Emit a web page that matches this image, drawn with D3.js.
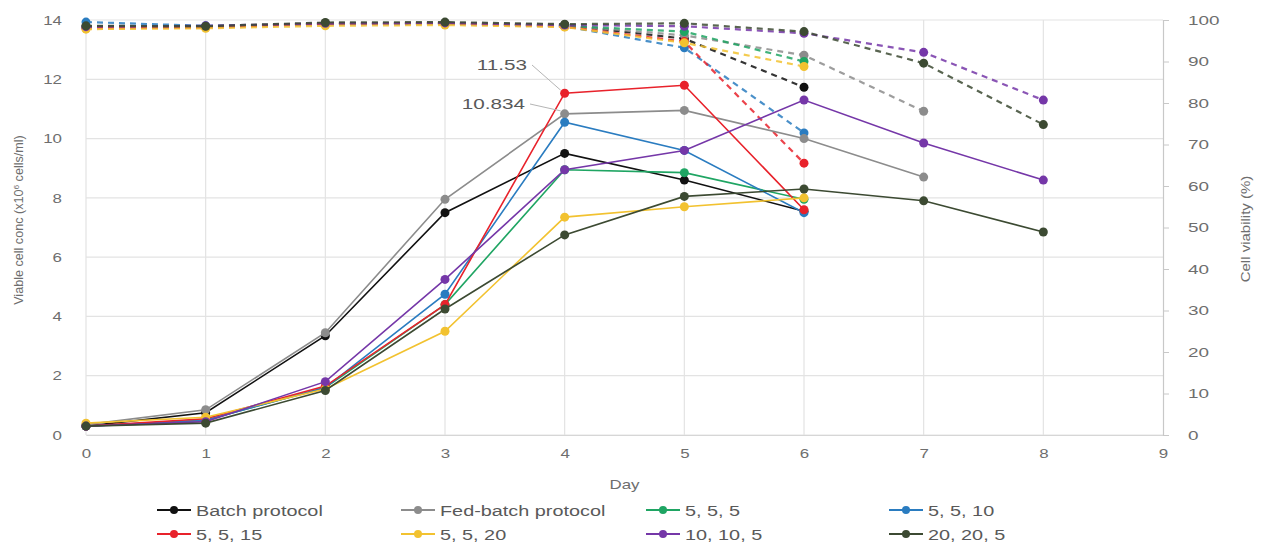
<!DOCTYPE html>
<html>
<head>
<meta charset="utf-8">
<script src="https://cdn.jsdelivr.net/npm/d3@7"></script>
<style>
  body { margin: 0; background: #fff; }
  svg { display: block; }
  text { font-family: "Liberation Sans", Arial, sans-serif; }
</style>
</head>
<body>
<svg id="chart" width="1265" height="544"></svg>
<script>
// Culture days and tick labels
const days = [0, 1, 2, 3, 4, 5, 6, 7, 8];
const xTicks = [0, 1, 2, 3, 4, 5, 6, 7, 8, 9];
const leftTicks = [0, 2, 4, 6, 8, 10, 12, 14];
const rightTicks = [0, 10, 20, 30, 40, 50, 60, 70, 80, 90, 100];

// Feeding protocols
const seriesNames = ["Batch protocol", "Fed-batch protocol", "5, 5, 5", "5, 5, 10",
                     "5, 5, 15", "5, 5, 20", "10, 10, 5", "20, 20, 5"];
const seriesColors = ["#111111", "#8c8c8c", "#1fa563", "#2a7cc0",
                      "#e8222b", "#f2c230", "#7537a8", "#3c4a32"];

// Viable cell concentration (x10^6 cells/ml), one value per day
const vccBatch    = [0.30, 0.75, 3.35, 7.50, 9.50, 8.60, 7.55];
const vccFedBatch = [0.35, 0.85, 3.45, 7.95, 10.834, 10.95, 10.00, 8.70];
const vcc555      = [0.30, 0.50, 1.60, 4.40, 8.95, 8.85, 7.95];
const vcc5510     = [0.30, 0.50, 1.60, 4.75, 10.55, 9.60, 7.50];
const vcc5515     = [0.30, 0.55, 1.65, 4.40, 11.53, 11.80, 7.60];
const vcc5520     = [0.40, 0.60, 1.55, 3.50, 7.35, 7.70, 8.00];
const vcc10105    = [0.30, 0.45, 1.80, 5.25, 8.95, 9.60, 11.30, 9.85, 8.60];
const vcc20205    = [0.30, 0.40, 1.50, 4.25, 6.75, 8.05, 8.30, 7.90, 6.85];

// Cell viability (%), one value per day
const viaBatch    = [98.5, 98.3, 99.2, 99.3, 98.8, 95.5, 83.8];
const viaFedBatch = [98.2, 98.5, 99.0, 99.2, 98.7, 96.3, 91.5, 78.0];
const via555      = [98.3, 98.4, 99.1, 99.2, 98.6, 97.2, 90.0];
const via5510     = [99.5, 98.6, 99.0, 99.1, 98.5, 93.3, 72.8];
const via5515     = [98.0, 98.2, 99.1, 99.2, 98.4, 94.8, 65.5];
const via5520     = [97.8, 98.0, 98.6, 98.8, 98.3, 94.5, 88.8];
const via10105    = [98.4, 98.6, 99.2, 99.3, 98.8, 98.5, 96.8, 92.2, 80.7];
const via20205    = [98.6, 98.5, 99.4, 99.5, 99.0, 99.2, 97.2, 89.6, 74.8];

// Values called out with a leader line
const calloutSeries = ["5, 5, 15", "Fed-batch protocol"];
const calloutDay = [4, 4];
const calloutText = ["11.53", "10.834"];

const vccSets = [vccBatch, vccFedBatch, vcc555, vcc5510, vcc5515, vcc5520, vcc10105, vcc20205];
const viaSets = [viaBatch, viaFedBatch, via555, via5510, via5515, via5520, via10105, via20205];

const series = seriesNames.map((name, i) => ({
  name, color: seriesColors[i],
  vcc: vccSets[i].map((v, j) => ({ day: days[j], v })),
  via: viaSets[i].map((v, j) => ({ day: days[j], v }))
}));

const svg = d3.select("#chart");
const SX = 1.3;              // horizontal text stretch
const textColor = "#6e6e6e";

const x = d3.scaleLinear().domain([0, 9]).range([86, 1163]);
const yL = d3.scaleLinear().domain([0, 14]).range([435, 20]);
const yR = d3.scaleLinear().domain([0, 100]).range([435, 20]);

// Grid
const grid = svg.append("g");
grid.selectAll("line.h").data(leftTicks).join("line")
  .attr("x1", x(0)).attr("x2", x(9))
  .attr("y1", d => yL(d)).attr("y2", d => yL(d))
  .attr("stroke", "#e3e3e3").attr("stroke-width", 1.2);
grid.selectAll("line.v").data(xTicks.slice(0, 9)).join("line")
  .attr("x1", d => x(d)).attr("x2", d => x(d))
  .attr("y1", yL(14)).attr("y2", yL(0))
  .attr("stroke", "#e3e3e3").attr("stroke-width", 1.2);

function stretchText(sel, sx) {
  sel.each(function () {
    const t = d3.select(this);
    const tx = +t.attr("x") || 0;
    const ty = +t.attr("y") || 0;
    t.attr("x", 0).attr("y", 0)
     .attr("transform", `translate(${tx},${ty}) scale(${sx},1)`);
  });
}

// Bottom axis
const ax = svg.append("g").attr("transform", `translate(0,${yL(0)})`)
  .call(d3.axisBottom(x).tickValues(xTicks).tickFormat(d3.format("d")).tickSize(0).tickPadding(14));
ax.select(".domain").attr("stroke", "#d6d6d6").attr("stroke-width", 1.2);
ax.selectAll("text").attr("fill", textColor).attr("font-size", 13).attr("font-family", null);
stretchText(ax.selectAll("text"), SX);

// Left axis
const al = svg.append("g").attr("transform", `translate(${x(0)},0)`)
  .call(d3.axisLeft(yL).tickValues(leftTicks).tickFormat(d3.format("d")).tickSize(0).tickPadding(24));
al.select(".domain").remove();
al.selectAll("text").attr("fill", textColor).attr("font-size", 13).attr("font-family", null);
stretchText(al.selectAll("text"), SX);

// Right axis
const ar = svg.append("g").attr("transform", `translate(${x(9)},0)`)
  .call(d3.axisRight(yR).tickValues(rightTicks).tickFormat(d3.format("d")).tickSize(6).tickPadding(19));
ar.select(".domain").attr("stroke", "#c8c8c8").attr("stroke-width", 1.2);
ar.selectAll("line").attr("stroke", "#c8c8c8");
ar.selectAll("text").attr("fill", textColor).attr("font-size", 13.5).attr("font-family", null);
stretchText(ar.selectAll("text"), 1.4);

// Axis titles
svg.append("text").text("Day")
  .attr("transform", `translate(${x(4.5)},489) scale(${SX},1)`)
  .attr("text-anchor", "middle").attr("font-size", 13).attr("fill", textColor);

const leftTitle = svg.append("text")
  .attr("transform", `translate(23,220) rotate(-90) scale(1.05,1)`)
  .attr("text-anchor", "middle").attr("font-size", 12).attr("fill", textColor);
leftTitle.append("tspan").text("Viable cell conc (x10");
leftTitle.append("tspan").text("6").attr("dy", -4).attr("font-size", 8);
leftTitle.append("tspan").text(" cells/ml)").attr("dy", 4);

svg.append("text").text("Cell viability (%)")
  .attr("transform", `translate(1250,229) rotate(-90) scale(1.25,1)`)
  .attr("text-anchor", "middle").attr("font-size", 12).attr("fill", textColor);

// Series
const lineL = d3.line().x(d => x(d.day)).y(d => yL(d.v));
const lineR = d3.line().x(d => x(d.day)).y(d => yR(d.v));
const plot = svg.append("g");

series.forEach(s => {
  const g = plot.append("g");
  g.append("path").attr("d", lineR(s.via)).attr("fill", "none")
    .attr("stroke", s.color).attr("stroke-width", 2.2).attr("stroke-dasharray", "6,5")
    .attr("opacity", 0.85);
  g.selectAll("circle.r").data(s.via).join("circle")
    .attr("cx", d => x(d.day)).attr("cy", d => yR(d.v)).attr("r", 4.5)
    .attr("fill", s.color);
});
series.forEach(s => {
  const g = plot.append("g");
  g.append("path").attr("d", lineL(s.vcc)).attr("fill", "none")
    .attr("stroke", s.color).attr("stroke-width", 1.6);
  g.selectAll("circle.l").data(s.vcc).join("circle")
    .attr("cx", d => x(d.day)).attr("cy", d => yL(d.v)).attr("r", 4.5)
    .attr("fill", s.color);
});

// Callouts
const labelPos = [[527, 70], [525, 109]];
calloutSeries.forEach((name, i) => {
  const s = series.find(t => t.name === name);
  const pt = s.vcc.find(d => d.day === calloutDay[i]);
  const [lx, ly] = labelPos[i];
  svg.append("line")
    .attr("x1", lx + 5).attr("y1", ly - 5)
    .attr("x2", x(pt.day) - 4).attr("y2", yL(pt.v) - 3)
    .attr("stroke", "#b5b5b5").attr("stroke-width", 1);
  svg.append("text").text(calloutText[i])
    .attr("transform", `translate(${lx},${ly}) scale(1.38,1)`)
    .attr("text-anchor", "end").attr("font-size", 15).attr("fill", "#595959");
});

// Legend
const legCols = [157, 401, 646, 889];
const legRows = [510, 534];
const legend = svg.append("g");
series.forEach((s, i) => {
  const lx = legCols[i % 4], ly = legRows[Math.floor(i / 4)];
  const g = legend.append("g");
  g.append("line").attr("x1", lx).attr("x2", lx + 34).attr("y1", ly).attr("y2", ly)
    .attr("stroke", s.color).attr("stroke-width", 2);
  g.append("circle").attr("cx", lx + 17).attr("cy", ly).attr("r", 4).attr("fill", s.color);
  g.append("text").text(s.name)
    .attr("transform", `translate(${lx + 39},${ly + 5.5}) scale(1.28,1)`)
    .attr("font-size", 15.5).attr("fill", "#595959");
});
</script>
</body>
</html>
